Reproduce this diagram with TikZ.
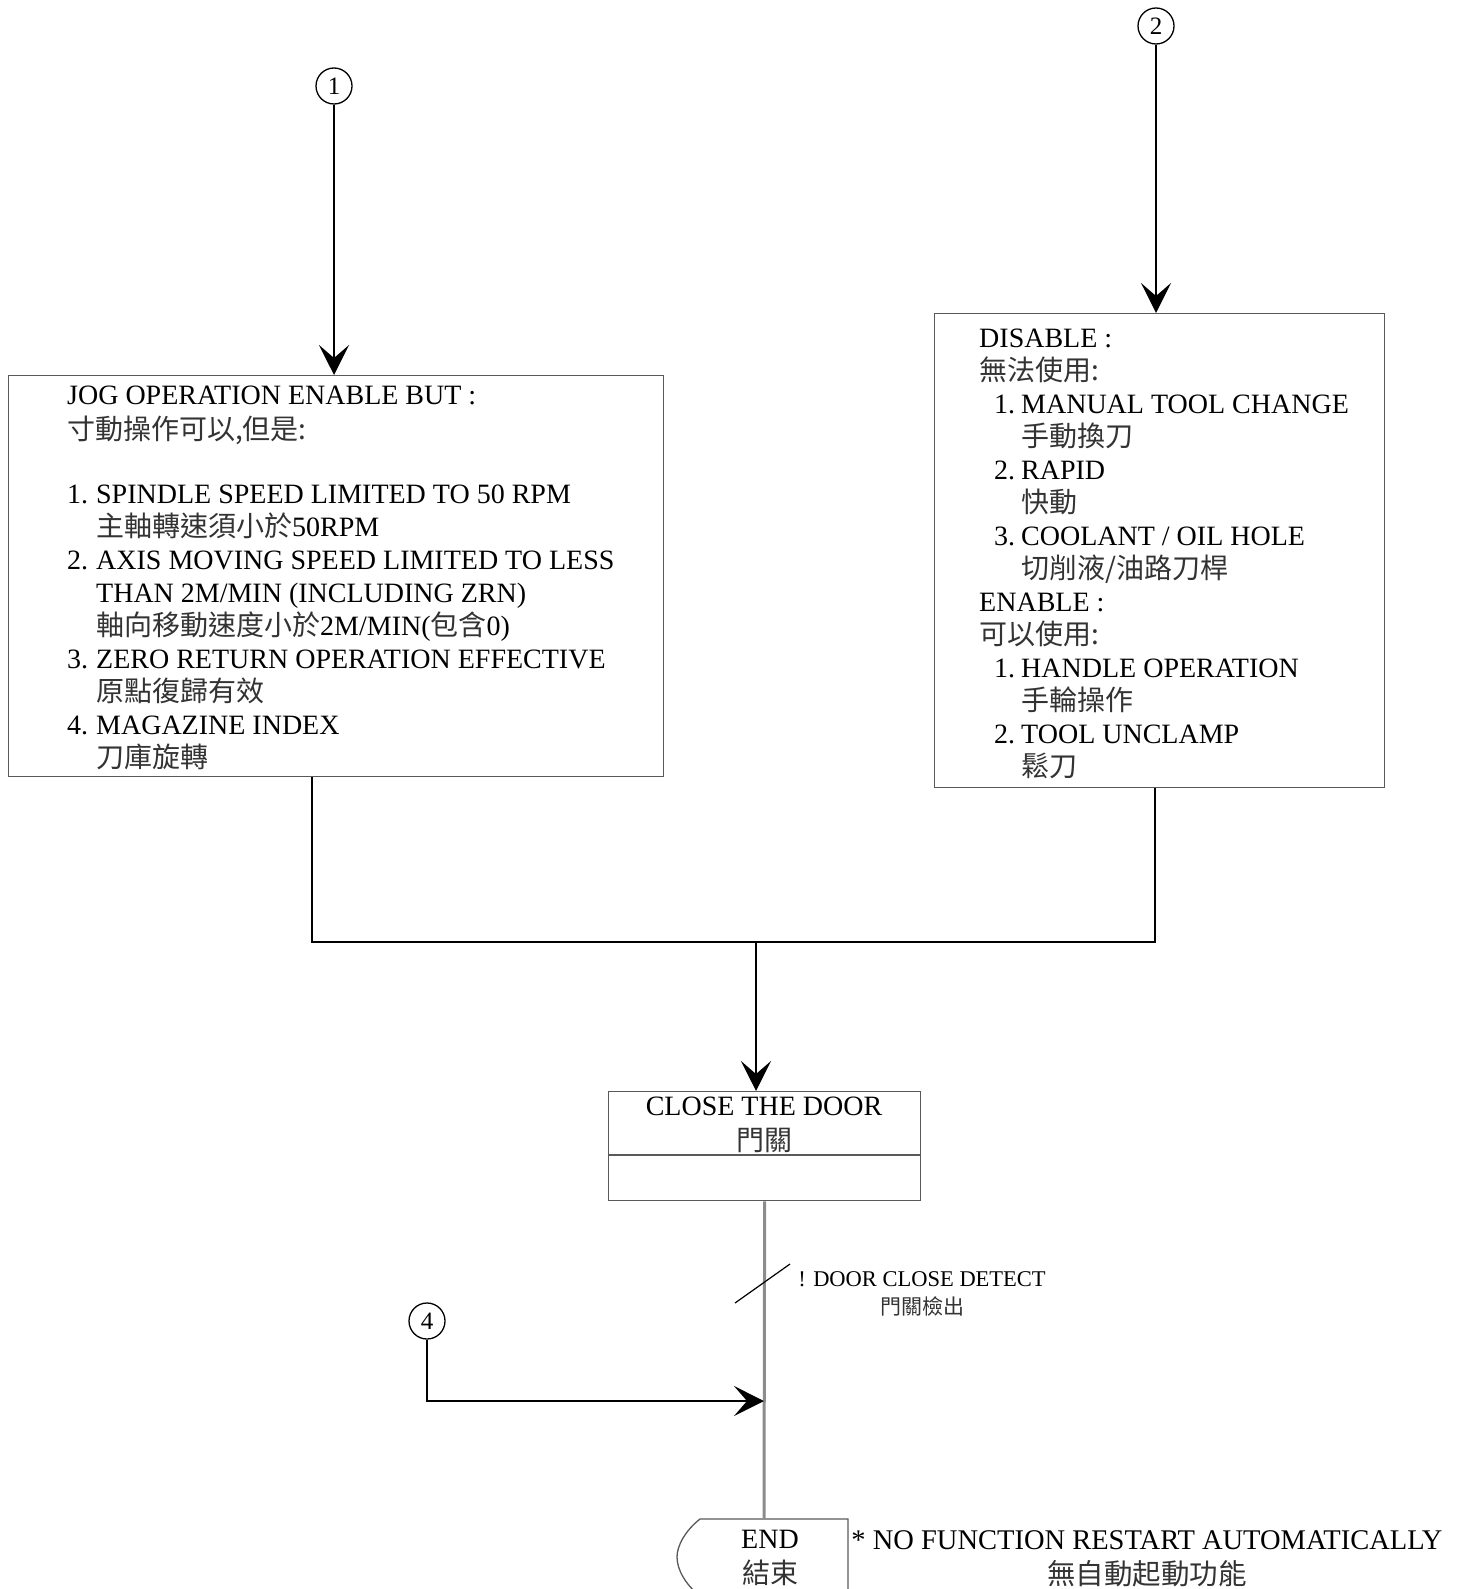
\documentclass[tikz,border=0pt]{standalone}
\usepackage{fontspec}
\setmainfont{Liberation Serif}
\newfontfamily\cjk{Noto Sans CJK TC}
\usetikzlibrary{arrows.meta}

\newcommand\zh[1]{{\cjk\color{black!80}#1}}

\tikzset{
  box/.style={draw=black!65, line width=1.3pt},
  wire/.style={line width=1.6pt},
  flow/.style={line width=1.6pt, -{Stealth[length=30pt,width=30pt,inset=13pt]}},
  num/.style={circle, draw, line width=1.3pt, minimum size=36pt, inner sep=0pt, font=\fontsize{25}{25}\selectfont},
  bodytext/.style={inner sep=0pt, align=left, font=\fontsize{28}{33}\selectfont},
}

\begin{document}
\begin{tikzpicture}[x=1pt,y=-1pt]
    \useasboundingbox (0,0) rectangle (1464,1589);
    \clip (0,0) rectangle (1464,1589);

    \node[num] (c1) at (334,86) {1};
    \node[num] (c2) at (1156,26) {2};
    \node[num] (c4) at (427,1321) {4};

    \node[box, anchor=north west, minimum width=655pt, minimum height=401pt] (jog) at (8,375) {};
    \node[box, anchor=north west, minimum width=450pt, minimum height=474pt] (dis) at (934,313) {};
    \node[box, anchor=north west, minimum width=312pt, minimum height=109pt] (door) at (608,1091) {};
    \draw[box] (door.west |- 0,1155) -- (door.east |- 0,1155);

    \node[bodytext, anchor=north west] (jogtxt) at (67,386) {JOG OPERATION ENABLE BUT :\\[2pt]
        \zh{寸動操作可以,但是:}\\[31pt]
        \makebox[29pt][l]{1.}SPINDLE SPEED LIMITED TO 50 RPM\\
        \hspace*{29pt}\zh{主軸轉速須小於}50RPM\\
        \makebox[29pt][l]{2.}AXIS MOVING SPEED LIMITED TO LESS\\
        \hspace*{29pt}THAN 2M/MIN (INCLUDING ZRN)\\
        \hspace*{29pt}\zh{軸向移動速度小於}2M/MIN(\zh{包含}0)\\
        \makebox[29pt][l]{3.}ZERO RETURN OPERATION EFFECTIVE\\
        \hspace*{29pt}\zh{原點復歸有效}\\
        \makebox[29pt][l]{4.}MAGAZINE INDEX\\
        \hspace*{29pt}\zh{刀庫旋轉}};

    \node[bodytext, anchor=north west] (distxt) at (979,329) {DISABLE :\\
        \zh{無法使用:}\\
        \hspace*{15pt}\makebox[27pt][l]{1.}MANUAL TOOL CHANGE\\
        \hspace*{42pt}\zh{手動換刀}\\
        \hspace*{15pt}\makebox[27pt][l]{2.}RAPID\\
        \hspace*{42pt}\zh{快動}\\
        \hspace*{15pt}\makebox[27pt][l]{3.}COOLANT / OIL HOLE\\
        \hspace*{42pt}\zh{切削液/油路刀桿}\\
        ENABLE :\\
        \zh{可以使用:}\\
        \hspace*{15pt}\makebox[27pt][l]{1.}HANDLE OPERATION\\
        \hspace*{42pt}\zh{手輪操作}\\
        \hspace*{15pt}\makebox[27pt][l]{2.}TOOL UNCLAMP\\
        \hspace*{42pt}\zh{鬆刀}};

    \node[bodytext, align=center, anchor=north] (doortxt) at (764,1097) {CLOSE THE DOOR\\[2pt]\zh{門關}};

    \node[inner sep=0pt, align=center, anchor=north, font=\fontsize{22.5}{28}\selectfont] (detect) at (922,1271) {! DOOR CLOSE DETECT\\\zh{\fontsize{21}{28}\selectfont 門關檢出}};

    \node[bodytext, align=center, anchor=north] (endtxt) at (770,1530) {END\\[2pt]\zh{結束}};
    \node[bodytext, align=center, anchor=north, font=\fontsize{28.5}{33}\selectfont] (note) at (1147,1530) {* NO FUNCTION RESTART AUTOMATICALLY\\[2pt]\zh{無自動起動功能}};

    \draw[box] (848,1600) -- (848,1519) -- (700,1519) .. controls (686,1530) and (677,1545) .. (677,1557) .. controls (677,1570) and (686,1585) .. (700,1596);

    \coordinate (jl) at (312,942);
    \coordinate (jr) at (1155,942);
    \coordinate (jm) at (756,942);
    \coordinate (endtop) at (764,1519);
    \coordinate (merge) at (764,1401);
    \coordinate (trans) at (763,1284);

    \draw[flow] (c1.south) -- (c1.south |- jog.north);
    \draw[flow] (c2.south) -- (c2.south |- dis.north);
    \draw[wire] (jl |- jog.south) -- (jl) -- (jr) -- (jr |- dis.south);
    \draw[flow] (jm) -- (jm |- door.north);

    \draw[black!45, line width=3pt] (door.south) -- (endtop);
    \draw[line width=1.2pt] (trans) ++(-28,19) -- ++(55,-39);
    \draw[flow] (c4.south) |- (merge);
\end{tikzpicture}
\end{document}
